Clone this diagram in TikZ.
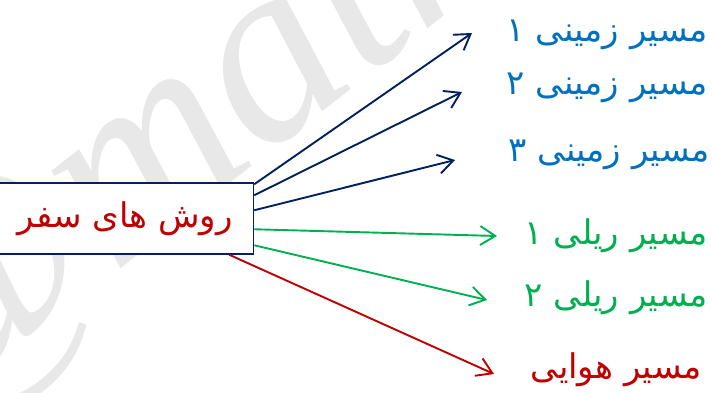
\documentclass[tikz,border=0pt]{standalone}
\usepackage{fontspec}
\usetikzlibrary{arrows.meta,calc}
\TeXXeTstate=1
\newfontfamily\arabicfont[Script=Arabic]{DejaVu Sans}
\newfontfamily\markfont{Liberation Serif}
\definecolor{navy}{HTML}{002060}
\definecolor{landblue}{HTML}{0070C0}
\definecolor{railgreen}{HTML}{00B050}
\definecolor{airred}{HTML}{C00000}
\definecolor{markgray}{HTML}{E8E8E8}
\tikzset{
  srcbox/.style={draw=navy, line width=1.5pt, fill=white, minimum width=257pt, minimum height=71pt, inner sep=0pt,
    text=airred, font=\arabicfont\fontsize{34}{40}\selectfont},
  lbl/.style={anchor=east, inner sep=0pt, font=\arabicfont\fontsize{34}{40}\selectfont},
  link/.style={line width=1.9pt, -{Straight Barb[length=15pt,width=19pt,line width=1.9pt]}}
}
\begin{document}
\begin{tikzpicture}[x=1pt,y=-1pt]
  \useasboundingbox (0,0) rectangle (713,392);
  \clip (0,0) rectangle (713,392);
  \fill[white] (0,0) rectangle (713,392);
  % faint watermark behind the diagram
  \node[text=markgray, rotate=38, font=\markfont\itshape\fontsize{260}{260}\selectfont, anchor=base west, inner sep=0pt] (mark) at (-75,422) {@mathe};
  % travel-mode labels
  \node[lbl, text=landblue] (l1) at (708,35) {\beginR مسیر زمینی ۱\endR};
  \node[lbl, text=landblue] (l2) at (708,88) {\beginR مسیر زمینی ۲\endR};
  \node[lbl, text=landblue] (l3) at (710,155) {\beginR مسیر زمینی ۳\endR};
  \node[lbl, text=railgreen] (l4) at (708,236) {\beginR مسیر ریلی ۱\endR};
  \node[lbl, text=railgreen] (l5) at (708,298) {\beginR مسیر ریلی ۲\endR};
  \node[lbl, text=airred] (l6) at (702,370) {\beginR مسیر هوایی\endR};
  % arrow tips
  \coordinate (t1) at (472,33);
  \coordinate (t2) at (462,92);
  \coordinate (t3) at (455,160);
  \coordinate (t4) at (497,236);
  \coordinate (t5) at (487,300);
  \coordinate (t6) at (494,374);
  % source box
  \node[srcbox] (src) at (125,218.5) {\beginR روش های سفر\endR};
  % arrows from the box
  \draw[link, navy] ($(src.north east)+(0,2)$) -- (t1);
  \draw[link, navy] ($(src.north east)+(0,13)$) -- (t2);
  \draw[link, navy] ($(src.north east)+(0,28)$) -- (t3);
  \draw[link, railgreen] ($(src.north east)+(0,47)$) -- (t4);
  \draw[link, railgreen] ($(src.north east)+(0,63)$) -- (t5);
  \draw[link, airred] ($(src.south east)+(-25,0)$) -- (t6);
\end{tikzpicture}
\end{document}
